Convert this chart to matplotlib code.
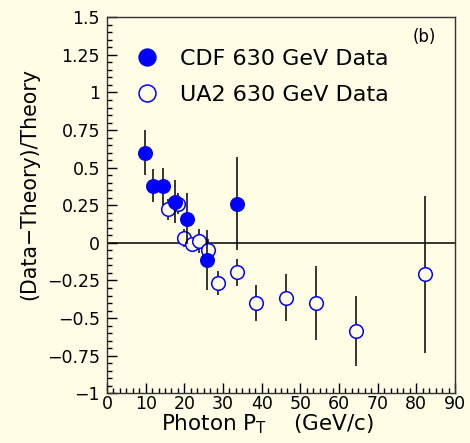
import matplotlib
matplotlib.use("Agg")
import matplotlib.pyplot as plt
from matplotlib.lines import Line2D
from matplotlib.ticker import MultipleLocator, AutoMinorLocator

# CDF 630 GeV (filled)
cdf_pt = [9.9, 11.8, 14.4, 17.6, 20.8, 25.8, 33.6]
cdf_val = [0.60, 0.38, 0.375, 0.275, 0.16, -0.115, 0.26]
cdf_err = [0.15, 0.11, 0.12, 0.145, 0.17, 0.20, 0.31]

# UA2 630 GeV (open)
ua2_pt = [15.9, 18.3, 20.0, 21.9, 23.9, 26.0, 28.7, 33.5, 38.6, 46.3, 54.0, 64.5, 82.2]
ua2_val = [0.225, 0.26, 0.035, -0.01, 0.01, -0.045, -0.265, -0.195, -0.40, -0.365, -0.40, -0.585, -0.21]
ua2_err = [0.07, 0.07, 0.06, 0.05, 0.08, 0.07, 0.08, 0.09, 0.12, 0.157, 0.245, 0.234, 0.52]

bg = "#fffde6"
blue = "#0000ff"

fig = plt.figure(figsize=(4.7, 4.43), dpi=100, facecolor=bg)
ax = fig.add_axes([0.2277, 0.1122, 0.7403, 0.8488], facecolor=bg)

ax.axhline(0, color="black", lw=1.1, zorder=1)

ax.errorbar(ua2_pt, ua2_val, yerr=ua2_err, fmt="o", ms=9.8, mfc=bg, mec=blue,
            mew=1.1, ecolor="black", elinewidth=1.1, capsize=0, zorder=3)
ax.errorbar(cdf_pt, cdf_val, yerr=cdf_err, fmt="o", ms=9.8, mfc=blue, mec=blue,
            ecolor="black", elinewidth=1.1, capsize=0, zorder=4)

ax.set_xlim(0, 90)
ax.set_ylim(-1, 1.5)
ax.xaxis.set_major_locator(MultipleLocator(10))
ax.xaxis.set_minor_locator(AutoMinorLocator(6))
ax.yaxis.set_minor_locator(AutoMinorLocator(5))
ax.set_yticks([-1, -0.75, -0.5, -0.25, 0, 0.25, 0.5, 0.75, 1, 1.25, 1.5])
ax.set_yticklabels(["\u22121", "\u22120.75", "\u22120.5", "\u22120.25", "0", "0.25",
                    "0.5", "0.75", "1", "1.25", "1.5"])

ax.tick_params(axis="both", which="major", direction="in", length=7, width=1,
               labelsize=12.5, top=False, right=False)
ax.tick_params(axis="both", which="minor", direction="in", length=3.5, width=1,
               top=False, right=False)
ax.tick_params(axis="y", pad=5)
ax.tick_params(axis="x", pad=1)
for s in ax.spines.values():
    s.set_color("#333333")
    s.set_linewidth(1)

ax.set_xlabel("Photon P$_\\mathregular{T}$    (GeV/c)", fontsize=15.5)
ax.xaxis.set_label_coords(0.46, -0.05)
ax.set_ylabel("(Data\u2212Theory)/Theory", fontsize=14.8)
ax.yaxis.set_label_coords(-0.195, 0.557)

ax.text(0.911, 0.948, "(b)", transform=ax.transAxes, fontsize=12,
        ha="center", va="center")

handles = [
    Line2D([], [], ls="none", marker="o", ms=12.2, mfc=blue, mec=blue),
    Line2D([], [], ls="none", marker="o", ms=12.2, mfc=bg, mec=blue, mew=1.1),
]
labels = ["CDF 630 GeV Data", "UA2 630 GeV Data"]
ax.legend(handles, labels, loc="upper left", bbox_to_anchor=(0.057, 0.94),
          frameon=False, fontsize=16, handlelength=1.0, handletextpad=1.0,
          labelspacing=0.72, borderaxespad=0)

fig.savefig("out.png", dpi=100, facecolor=bg)
